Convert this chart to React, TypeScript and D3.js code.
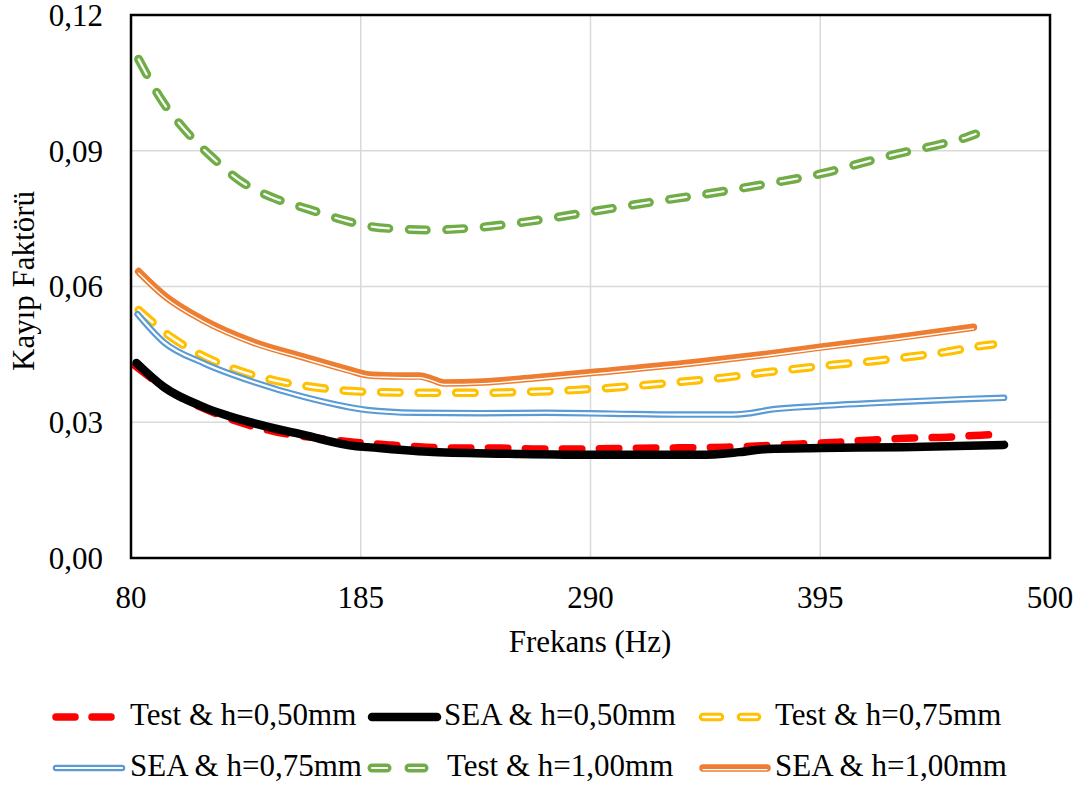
import React, { useEffect, useRef } from "react";
import * as d3 from "d3";

const W = 1085;
const H = 787;

const xTicks = [80, 185, 290, 395, 500];
const yTicks = [0, 0.03, 0.06, 0.09, 0.12];
const xTickLabels = ["80", "185", "290", "395", "500"];
const yTickLabels = ["0,00", "0,03", "0,06", "0,09", "0,12"];

const seriesNames = [
  "Test & h=0,50mm",
  "SEA & h=0,50mm",
  "Test & h=0,75mm",
  "SEA & h=0,75mm",
  "Test & h=1,00mm",
  "SEA & h=1,00mm",
];

const test050Freq = [82, 99, 115, 131, 147, 165, 182, 198, 215, 232, 249, 266, 283, 300, 320, 352, 368, 386, 403, 419, 437, 453, 470, 475];
const test050Val = [0.0424, 0.0365, 0.0327, 0.0298, 0.0278, 0.0265, 0.0256, 0.025, 0.0245, 0.0243, 0.0243, 0.0241, 0.0241, 0.0242, 0.0243, 0.0245, 0.0248, 0.0252, 0.0256, 0.0261, 0.0265, 0.0267, 0.0272, 0.0273];

const sea050Freq = [82.5, 95, 113, 136, 159, 183, 188, 218, 256, 293, 340, 358, 371, 395, 432, 479];
const sea050Val = [0.0431, 0.0378, 0.0334, 0.0298, 0.0272, 0.0247, 0.0245, 0.0234, 0.023, 0.0228, 0.0228, 0.0234, 0.0241, 0.0243, 0.0245, 0.025];

const test075Freq = [83.5, 99, 114, 130, 147, 163, 180, 200, 220, 240, 260, 282, 310, 335, 350, 368, 384, 401, 419, 435, 452, 469, 474];
const test075Val = [0.0548, 0.0486, 0.0444, 0.0413, 0.0391, 0.0378, 0.0369, 0.0366, 0.0365, 0.0365, 0.0367, 0.0371, 0.038, 0.0391, 0.0398, 0.0409, 0.0418, 0.0427, 0.0435, 0.0444, 0.0455, 0.0469, 0.0472];

const sea075Freq = [83, 95, 113, 136, 159, 188, 210, 240, 270, 300, 330, 355, 363, 371, 395, 431, 460, 479];
const sea075Val = [0.0539, 0.0477, 0.0431, 0.0389, 0.0356, 0.0327, 0.0321, 0.032, 0.0321, 0.0319, 0.0317, 0.0317, 0.032, 0.0327, 0.0336, 0.0345, 0.0351, 0.0354];

const test100Freq = [83.5, 94, 105, 117, 130, 144, 161, 177, 189, 203, 217, 240, 262, 290, 317, 345, 372, 397, 414, 430, 447, 462, 466];
const test100Val = [0.1102, 0.1012, 0.0944, 0.0886, 0.0833, 0.0798, 0.0771, 0.0747, 0.0733, 0.0727, 0.0725, 0.0731, 0.0744, 0.0765, 0.0786, 0.0806, 0.0828, 0.0851, 0.0873, 0.0893, 0.0911, 0.093, 0.0937];

const sea100Freq = [83.5, 95, 113, 136, 159, 180, 188, 195, 205, 212, 217, 223, 241, 264, 293, 340, 370, 395, 430, 465];
const sea100Val = [0.0633, 0.0581, 0.0526, 0.0477, 0.0444, 0.0415, 0.0405, 0.0403, 0.0402, 0.0402, 0.0396, 0.0387, 0.0389, 0.0398, 0.0411, 0.0433, 0.045, 0.0466, 0.0487, 0.051];

type Style = {
  color: string;
  width: number;
  dash?: string;
  inner?: { width: number; offset?: number };
};

const styles: Style[] = [
  { color: "#FF0000", width: 7.5, dash: "19.5 17.5" },
  { color: "#000000", width: 8.5 },
  { color: "#FFC000", width: 8.5, dash: "18.5 19", inner: { width: 2.4 } },
  { color: "#5B9BD5", width: 6.5, inner: { width: 2.2 } },
  { color: "#70AD47", width: 9, dash: "17 20.5", inner: { width: 2.2 } },
  { color: "#ED7D31", width: 7.5, inner: { width: 1.4, offset: 1.6 } },
];

const seriesData: [number[], number[]][] = [
  [test050Freq, test050Val],
  [sea050Freq, sea050Val],
  [test075Freq, test075Val],
  [sea075Freq, sea075Val],
  [test100Freq, test100Val],
  [sea100Freq, sea100Val],
];

const FONT = "'Liberation Serif', 'Times New Roman', serif";

export default function App() {
  const ref = useRef<SVGSVGElement>(null);

  useEffect(() => {
    const svg = d3.select(ref.current);
    svg.selectAll("*").remove();

    const left = 131, right = 1050, top = 15, bottom = 558;
    const x = d3.scaleLinear().domain([80, 500]).range([left, right]);
    const y = d3.scaleLinear().domain([0, 0.12]).range([bottom, top]);

    svg.append("rect").attr("width", W).attr("height", H).attr("fill", "#fff");

    const grid = svg.append("g");
    xTicks.forEach((t) => {
      grid.append("line").attr("x1", x(t)).attr("x2", x(t)).attr("y1", top).attr("y2", bottom)
        .attr("stroke", "#D9D9D9").attr("stroke-width", 1.5);
    });
    yTicks.forEach((t) => {
      grid.append("line").attr("x1", left).attr("x2", right).attr("y1", y(t)).attr("y2", y(t))
        .attr("stroke", "#D9D9D9").attr("stroke-width", 1.5);
    });

    const line = d3.line<[number, number]>()
      .x((d) => x(d[0]))
      .y((d) => y(d[1]))
      .curve(d3.curveMonotoneX);

    const drawStyled = (g: any, pathD: string, st: Style) => {
      g.append("path").attr("d", pathD).attr("fill", "none")
        .attr("stroke", st.color).attr("stroke-width", st.width)
        .attr("stroke-linecap", "round").attr("stroke-linejoin", "round")
        .attr("stroke-dasharray", st.dash || null);
      if (st.inner) {
        g.append("path").attr("d", pathD).attr("fill", "none")
          .attr("stroke", "#fff").attr("stroke-width", st.inner.width)
          .attr("stroke-linecap", "round").attr("stroke-linejoin", "round")
          .attr("stroke-dasharray", st.dash || null)
          .attr("transform", st.inner.offset ? `translate(0,${st.inner.offset})` : null);
      }
    };

    const plot = svg.append("g");
    seriesData.forEach(([fs, vs], i) => {
      const pts: [number, number][] = fs.map((f, k) => [f, vs[k]]);
      drawStyled(plot, line(pts) as string, styles[i]);
    });

    svg.append("rect").attr("x", left).attr("y", top).attr("width", right - left).attr("height", bottom - top)
      .attr("fill", "none").attr("stroke", "#000").attr("stroke-width", 2.5);

    xTicks.forEach((t, i) => {
      svg.append("text").attr("x", x(t)).attr("y", 608).attr("text-anchor", "middle")
        .attr("font-family", FONT).attr("font-size", 31).attr("fill", "#000").text(xTickLabels[i]);
    });
    yTicks.forEach((t, i) => {
      svg.append("text").attr("x", 103).attr("y", y(t)).attr("dy", "0.35em").attr("text-anchor", "end")
        .attr("font-family", FONT).attr("font-size", 31).attr("fill", "#000").text(yTickLabels[i]);
    });

    svg.append("text").attr("x", 590).attr("y", 652).attr("text-anchor", "middle")
      .attr("font-family", FONT).attr("font-size", 31).attr("fill", "#000").text("Frekans (Hz)");
    svg.append("text").attr("transform", "translate(34,281) rotate(-90)").attr("text-anchor", "middle")
      .attr("font-family", FONT).attr("font-size", 31).attr("fill", "#000").text("Kayıp Faktörü");

    const legItems = [
      { x1: 56, x2: 112, tx: 130, row: 0 },
      { x1: 372, x2: 437, tx: 444, row: 0 },
      { x1: 703, x2: 757, tx: 775, row: 0 },
      { x1: 56, x2: 122, tx: 130, row: 1 },
      { x1: 372, x2: 427, tx: 447, row: 1 },
      { x1: 703, x2: 767, tx: 775, row: 1 },
    ];
    const rowY = [717, 768];
    const legStyles: Style[] = [
      { ...styles[0], dash: "19 17" },
      styles[1],
      { ...styles[2], dash: "17 21" },
      styles[3],
      { ...styles[4], dash: "15 22" },
      styles[5],
    ];
    const leg = svg.append("g");
    legItems.forEach((it, i) => {
      const yy = rowY[it.row];
      drawStyled(leg, `M${it.x1},${yy}L${it.x2},${yy}`, legStyles[i]);
      leg.append("text").attr("x", it.tx).attr("y", yy + 8).attr("font-family", FONT)
        .attr("font-size", 31).attr("fill", "#000").text(seriesNames[i]);
    });
  }, []);

  return (
    <svg ref={ref} width={W} height={H} style={{ position: "absolute", left: 0, top: 0, display: "block" }} />
  );
}
